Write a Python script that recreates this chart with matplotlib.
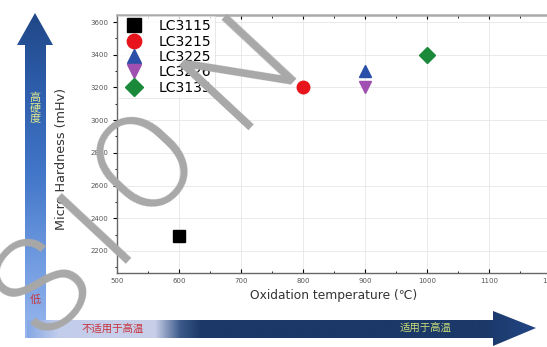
import numpy as np
import matplotlib
matplotlib.use("Agg")
import matplotlib.pyplot as plt
from matplotlib.patches import Polygon
from matplotlib.colors import LinearSegmentedColormap
from matplotlib.ticker import MultipleLocator
from matplotlib.font_manager import FontProperties

plt.rcParams['font.family'] = ['DejaVu Sans', 'Noto Sans CJK SC']

# data
samples = ['LC3115', 'LC3215', 'LC3225', 'LC3226', 'LC3135']
temps = [600, 800, 900, 900, 1000]
hardness = [2290, 3200, 3300, 3200, 3400]
markers = ['s', 'o', '^', 'v', 'D']
colors = ['#000000', '#e8141c', '#2a4fa8', '#a050b0', '#1a8a3a']

W, H = 547, 347
fig = plt.figure(figsize=(W / 100, H / 100), dpi=100)

# main axes (right edge runs a bit past the picture, as in the reference)
ax = fig.add_axes([117 / W, (H - 273) / H, 434 / W, 258 / H])
for t, h, m, c, s in zip(temps, hardness, markers, colors, samples):
    ax.plot(t, h, marker=m, color=c, ms=9 if m != 'D' else 8, ls='none', label=s)

ax.set_xlim(500, 1200)
ax.set_ylim(2065, 3643)
ax.xaxis.set_major_locator(MultipleLocator(100))
ax.xaxis.set_minor_locator(MultipleLocator(50))
ax.yaxis.set_major_locator(MultipleLocator(200))
ax.yaxis.set_minor_locator(MultipleLocator(100))
ax.tick_params(axis='both', which='major', labelsize=5, labelcolor='#555555', length=3, width=0.8)
ax.tick_params(axis='both', which='minor', length=1.8, width=0.6)
ax.tick_params(axis='x', which='both', direction='in', top=True)
ax.tick_params(axis='y', which='both', direction='out')
ax.grid(True, color='#e6e6e6', lw=0.6)
for sp in ax.spines.values():
    sp.set_color('#666666')
    sp.set_linewidth(1.0)
ax.spines['top'].set_color('#aaaaaa')
ax.spines['top'].set_linewidth(1.8)
ax.set_xlabel('Oxidation temperature (℃)', fontsize=8.8, color='#333333', labelpad=4)
ax.set_ylabel('Micro Hardness (mHv)', fontsize=9.2, color='#333333')
ax.yaxis.set_label_coords(-0.113, 0.44)

leg = ax.legend(loc='upper left', fontsize=10, frameon=True, borderaxespad=0.05,
                handletextpad=0.9, labelspacing=0.1, borderpad=0.25, markerscale=1.15,
                handlelength=1.8, fancybox=False)
leg.get_frame().set_edgecolor('#dddddd')
leg.get_frame().set_linewidth(0.6)

# overlay in pixel coordinates for the arrows and watermark
ov = fig.add_axes([0, 0, 1, 1], zorder=5)
ov.set_xlim(0, W)
ov.set_ylim(H, 0)
ov.axis('off')
ov.patch.set_alpha(0)

# vertical arrow with gradient
vpoly = Polygon([(25, 338), (25, 45), (17, 45), (35, 13), (53, 45), (46, 45), (46, 338)],
                closed=True, fc='none', ec='none')
ov.add_patch(vpoly)
vcmap = LinearSegmentedColormap.from_list('v', ['#1f4786', '#2f5fae', '#4377c9', '#6f9ae0', '#9ab8ee'])
grad = np.linspace(0, 1, 256).reshape(-1, 1)
im = ov.imshow(grad, cmap=vcmap, extent=(15, 55, 340, 12), aspect='auto', zorder=2)
im.set_clip_path(vpoly)

# horizontal arrow with gradient
hpoly = Polygon([(27, 320), (493, 320), (493, 311), (536, 328), (493, 346), (493, 338), (27, 338)],
                closed=True, fc='none', ec='none')
ov.add_patch(hpoly)
hcmap = LinearSegmentedColormap.from_list(
    'h', [(0, '#86a8e4'), (0.06, '#c2cdec'), (0.25, '#c9cfe8'), (0.3, '#3b5a8a'),
          (0.34, '#1b3868'), (0.9, '#1b3868'), (1, '#224685')])
hgrad = np.linspace(0, 1, 512).reshape(1, -1)
im2 = ov.imshow(hgrad, cmap=hcmap, extent=(27, 537, 347, 309), aspect='auto', zorder=2)
im2.set_clip_path(hpoly)

cjk = ['Noto Sans CJK SC', 'DejaVu Sans']
ov.text(35, 108, '高\n硬\n度', color='#dfe88a', fontsize=8, ha='center', va='center',
        family=cjk, linespacing=1.05, zorder=3)
ov.text(35, 300, '低', color='#c8323c', fontsize=8, ha='center', va='center', family=cjk, zorder=3)
ov.text(113, 329, '不适用于高温', color='#c8323c', fontsize=7.5, ha='center', va='center',
        family=cjk, zorder=3)
ov.text(426, 328, '适用于高温', color='#c8dc78', fontsize=7.5, ha='center', va='center',
        family=cjk, zorder=3)

# watermark letters
wm_font = FontProperties(family='Roboto', weight=300, size=96)
for ch, (x, y) in zip('SION', [(45, 288), (97, 226), (148, 163), (242, 70)]):
    ov.text(x, y, ch, color='#a8a8a8', fontproperties=wm_font, rotation=47, ha='center',
            va='center', rotation_mode='anchor', zorder=6)

fig.savefig('out.png', dpi=100)
